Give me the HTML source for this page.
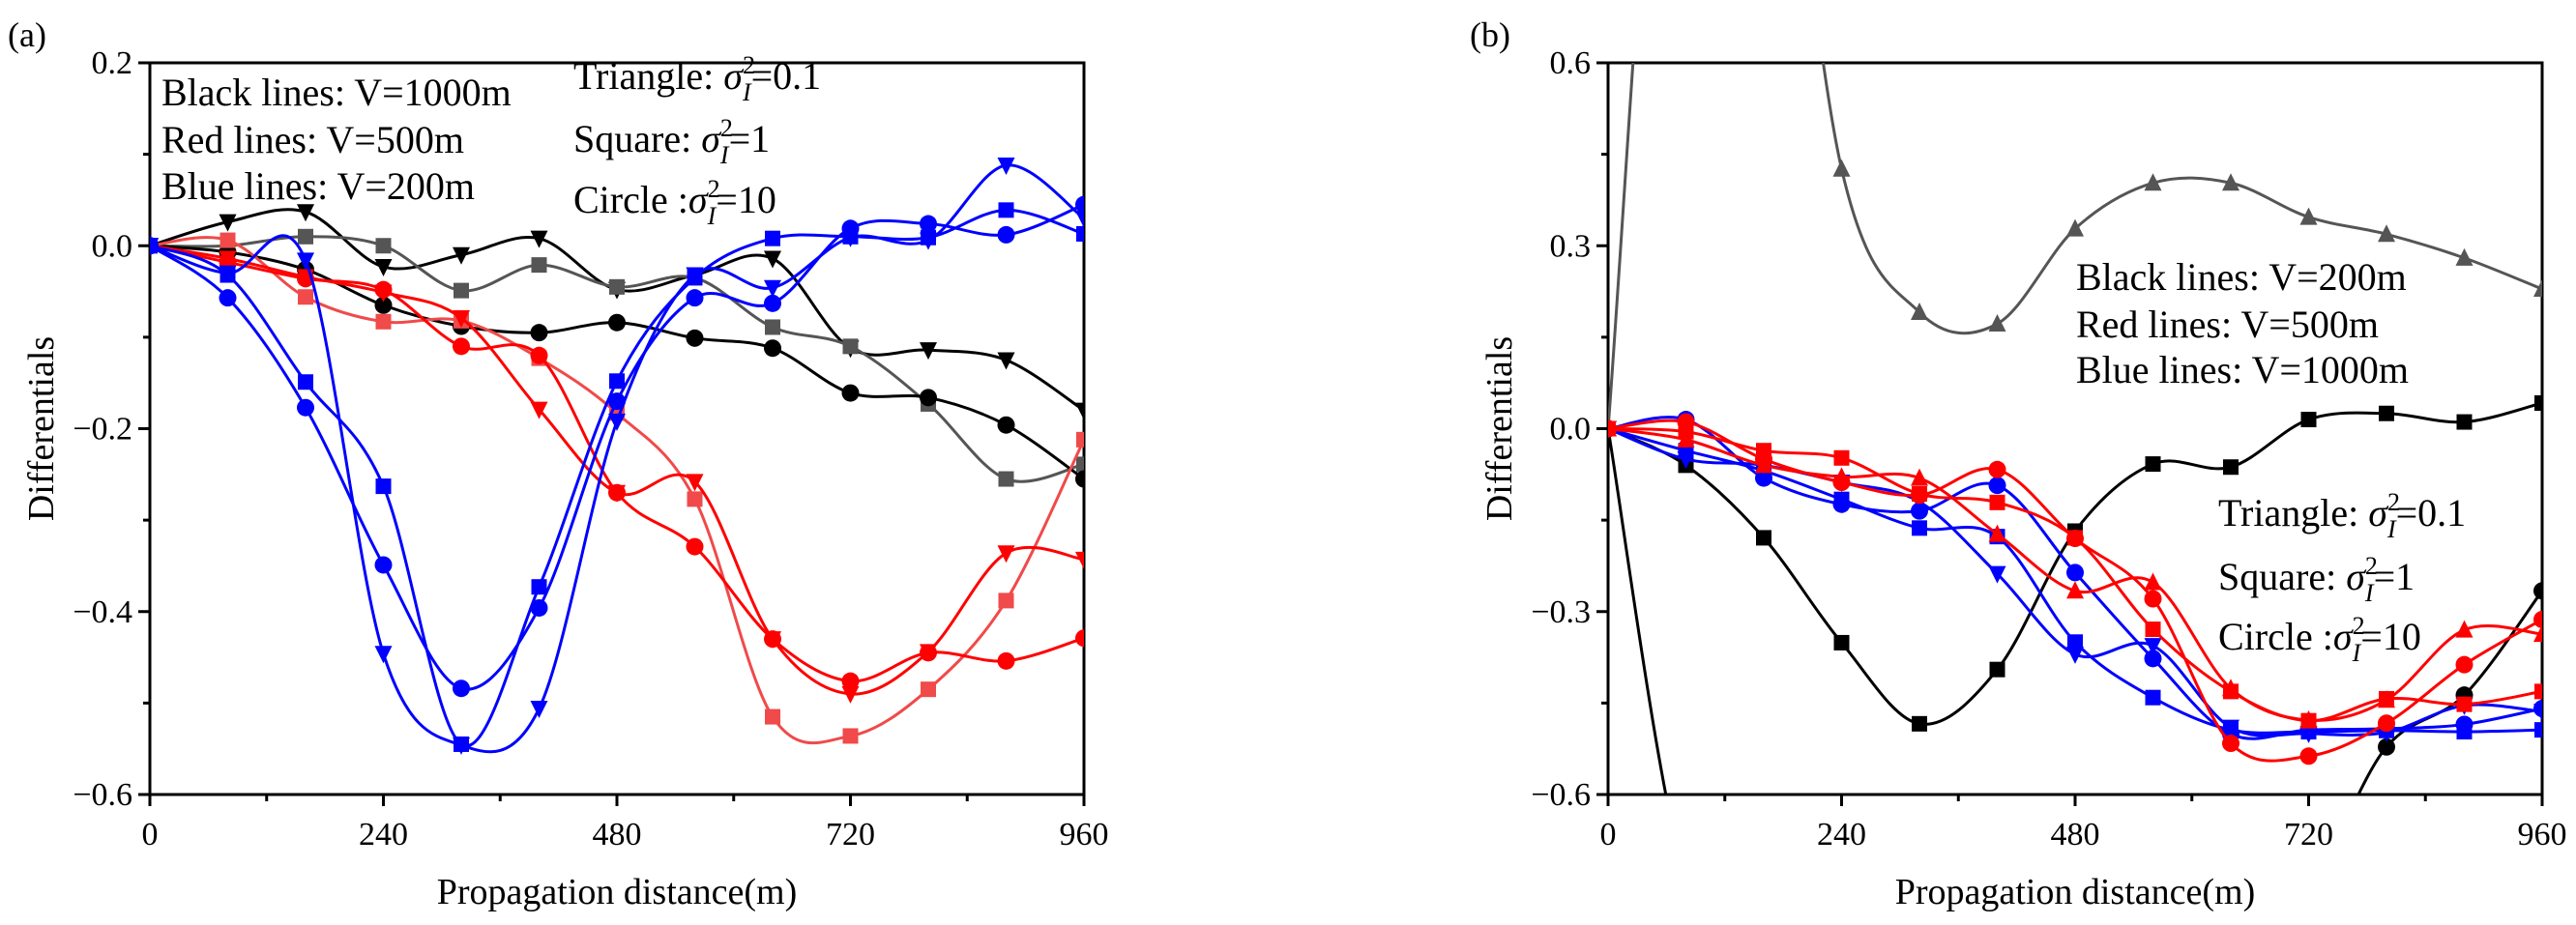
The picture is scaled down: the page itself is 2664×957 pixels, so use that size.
<!DOCTYPE html>
<html><head><meta charset="utf-8"><style>
html,body{margin:0;padding:0;background:#fff;width:2664px;height:957px;overflow:hidden;}
svg{display:block;font-family:"Liberation Serif",serif;overflow:hidden;}
</style></head><body>
<svg id="chart" width="2664" height="957" viewBox="0 0 2664 957" xmlns="http://www.w3.org/2000/svg">
<defs>
<clipPath id="clipA"><rect x="155" y="65" width="966" height="757"/></clipPath>
<clipPath id="clipB"><rect x="1663" y="65" width="966" height="757"/></clipPath>
</defs>
</svg>
<script>
// ---------- data ----------
const xCats = [0,80,160,240,320,400,480,560,640,720,800,880,960];
const xTicks = [0,240,480,720,960];
const yTicksA = [0.2,0.0,-0.2,-0.4,-0.6];
const yTickLabelsA = ["0.2","0.0","\u22120.2","\u22120.4","\u22120.6"];
const yTicksB = [0.6,0.3,0.0,-0.3,-0.6];
const yTickLabelsB = ["0.6","0.3","0.0","\u22120.3","\u22120.6"];

// panel (a)
const aBlackTri = [0,0.026,0.037,-0.023,-0.010,0.008,-0.048,-0.032,-0.014,-0.112,-0.114,-0.125,-0.180];
const aGraySq = [0,0.0,0.010,0.0,-0.049,-0.021,-0.045,-0.035,-0.089,-0.110,-0.173,-0.255,-0.239];
const aBlackCir = [0,-0.007,-0.026,-0.065,-0.088,-0.095,-0.084,-0.101,-0.112,-0.161,-0.166,-0.196,-0.255];
const aBlueTri = [0,-0.030,-0.016,-0.446,-0.546,-0.506,-0.192,-0.032,-0.046,0.009,0.006,0.088,0.030];
const aBlueSq = [0,-0.032,-0.149,-0.263,-0.545,-0.373,-0.148,-0.035,0.008,0.010,0.009,0.039,0.013];
const aBlueCir = [0,-0.057,-0.177,-0.349,-0.484,-0.396,-0.170,-0.057,-0.063,0.019,0.024,0.012,0.045];
const aRedTri = [0,-0.014,-0.034,-0.051,-0.079,-0.179,-0.270,-0.258,-0.430,-0.490,-0.444,-0.336,-0.343];
const aLtRedSq = [0,0.006,-0.056,-0.083,-0.082,-0.123,-0.183,-0.277,-0.515,-0.536,-0.485,-0.388,-0.212];
const aRedCir = [0,-0.018,-0.036,-0.048,-0.110,-0.120,-0.270,-0.329,-0.430,-0.476,-0.445,-0.454,-0.429];

// panel (b)
const bGrayTri = [0,1.6,1.3,0.426,0.191,0.172,0.328,0.403,0.403,0.347,0.319,0.280,0.229];
const bBlackSq = [0,-0.060,-0.179,-0.351,-0.484,-0.395,-0.168,-0.058,-0.063,0.015,0.025,0.011,0.042];
const bBlackCir = [0,-0.74,-0.74,-0.74,-0.74,-0.74,-0.74,-0.74,-0.74,-0.74,-0.522,-0.437,-0.266];
const bBlueTri = [0,-0.050,-0.060,-0.088,-0.120,-0.238,-0.370,-0.356,-0.490,-0.500,-0.498,-0.454,-0.464];
const bBlueSq = [0,-0.036,-0.069,-0.116,-0.163,-0.177,-0.350,-0.441,-0.494,-0.497,-0.495,-0.497,-0.494];
const bBlueCir = [0,0.015,-0.081,-0.124,-0.135,-0.093,-0.236,-0.377,-0.501,-0.494,-0.492,-0.485,-0.459];
const bRedTri = [0,-0.018,-0.060,-0.079,-0.081,-0.173,-0.266,-0.252,-0.426,-0.478,-0.445,-0.330,-0.337];
const bRedSq = [0,-0.005,-0.036,-0.048,-0.107,-0.121,-0.179,-0.329,-0.431,-0.479,-0.443,-0.452,-0.431];
const bRedCir = [0,0.011,-0.050,-0.088,-0.109,-0.067,-0.180,-0.279,-0.516,-0.537,-0.483,-0.387,-0.313];

// ---------- drawing ----------
const NS = "http://www.w3.org/2000/svg";
const svg = document.getElementById('chart');
function mk(tag, attrs, parent){
  const e = document.createElementNS(NS, tag);
  for (const k in attrs) e.setAttribute(k, attrs[k]);
  (parent||svg).appendChild(e);
  return e;
}

function panel(cfg){
  const L=cfg.left, T=65, W=966, H=757;
  const xs = v => L + v/960*W;
  const ys = v => T + (cfg.yMax - v)/(cfg.yMax-cfg.yMin)*H;
  const g = mk('g',{});
  
  
  const fr = mk('rect',{x:L,y:T,width:W,height:H,fill:'none',stroke:'#000','stroke-width':3},g);
  
  
  for (let v=0; v<=960; v+=120){
    const major = v%240===0;
    const t = mk('line',{x1:xs(v),x2:xs(v),y1:T+H,y2:T+H+(major?12:7),stroke:'#000','stroke-width':3},g);
    
    
  }
  xTicks.forEach(v=>{
    const t = mk('text',{x:xs(v),y:T+H+52,'font-size':34,'text-anchor':'middle',fill:'#000'},g);
    t.textContent = String(v);
    
    
  });
  const step = (cfg.yTicks[0]-cfg.yTicks[1])/2;
  for (let v=cfg.yMin; v<=cfg.yMax+1e-9; v+=step){
    const major = Math.abs(Math.round((v-cfg.yMin)/step))%2===0;
    const t = mk('line',{x1:L-(major?12:7),x2:L,y1:ys(v),y2:ys(v),stroke:'#000','stroke-width':3},g);
    
    
  }
  cfg.yTicks.forEach((v,i)=>{
    const t = mk('text',{x:L-18,y:ys(v)+11,'font-size':34,'text-anchor':'end',fill:'#000'},g);
    t.textContent = cfg.yLabels[i];
    
    
  });
  const xt = mk('text',{x:L+W/2,y:935,'font-size':38,'text-anchor':'middle',fill:'#000'},g);
  xt.textContent='Propagation distance(m)';
  
  
  const yt = mk('text',{x:0,y:0,'font-size':38,'text-anchor':'middle',fill:'#000',transform:`translate(${L-100},${T+H/2}) rotate(-90)`},g);
  yt.textContent='Differentials';
  
  
  const pl = mk('text',{x:cfg.labelX,y:48,'font-size':36,fill:'#000'},g);
  pl.textContent=cfg.label;
  
  
  const sg = mk('g',{'clip-path':`url(#${cfg.clip})`},g);
  cfg.series.forEach(s=>{
    const pts = xCats.map((x,i)=>[xs(x), ys(s.data[i])]);
    let d = `M${pts[0][0]},${pts[0][1]}`;
    for (let i=0;i<pts.length-1;i++){
      const p0=pts[Math.max(i-1,0)], p1=pts[i], p2=pts[i+1], p3=pts[Math.min(i+2,pts.length-1)];
      const c1=[p1[0]+(p2[0]-p0[0])/6, p1[1]+(p2[1]-p0[1])/6];
      const c2=[p2[0]-(p3[0]-p1[0])/6, p2[1]-(p3[1]-p1[1])/6];
      d += ` C${c1[0]},${c1[1]} ${c2[0]},${c2[1]} ${p2[0]},${p2[1]}`;
    }
    const ln = mk('path',{d:d,fill:'none',stroke:s.color,'stroke-width':3},sg);
    
    
    pts.forEach(([px,py])=>{
      if (py < T-20 || py > T+H+20) return;
      let m;
      const r=8;
      if (s.marker==='sq') m = mk('rect',{x:px-r,y:py-r,width:2*r,height:2*r,fill:s.color},sg);
      else if (s.marker==='ci') m = mk('circle',{cx:px,cy:py,r:r+1,fill:s.color},sg);
      else if (s.marker==='tu') m = mk('polygon',{points:`${px},${py-r-2} ${px-r-1},${py+r} ${px+r+1},${py+r}`,fill:s.color},sg);
      else m = mk('polygon',{points:`${px},${py+r+2} ${px-r-1},${py-r} ${px+r+1},${py-r}`,fill:s.color},sg);
      
      
    });
  });
  cfg.texts.forEach(t=>{
    const el = mk('text',{x:t.x,y:t.y,'font-size':40,fill:'#000'},g);
    
    
    if (t.sig){
      el.appendChild(document.createTextNode(t.pre));
      const s1 = mk('tspan',{'font-style':'italic'},el); s1.textContent='\u03c3';
      const s2 = mk('tspan',{'font-size':26,dy:-16}, el); s2.textContent='2';
      const s3 = mk('tspan',{'font-size':26,'font-style':'italic',dx:-13,dy:28}, el); s3.textContent='I';
      const s4 = mk('tspan',{dy:-12}, el); s4.textContent=t.post;
    } else el.textContent = t.pre;
  });
}

panel({name:'panel-a',left:155,yMax:0.2,yMin:-0.6,yTicks:yTicksA,yLabels:yTickLabelsA,clip:'clipA',label:'(a)',labelX:8,
  series:[
    {name:'a-black-triangle',data:aBlackTri,color:'#000',marker:'td'},
    {name:'a-gray-square',data:aGraySq,color:'#555',marker:'sq'},
    {name:'a-black-circle',data:aBlackCir,color:'#000',marker:'ci'},
    {name:'a-lightred-square',data:aLtRedSq,color:'#f04a4a',marker:'sq'},
    {name:'a-red-triangle',data:aRedTri,color:'#f00',marker:'td'},
    {name:'a-red-circle',data:aRedCir,color:'#f00',marker:'ci'},
    {name:'a-blue-triangle',data:aBlueTri,color:'#00f',marker:'td'},
    {name:'a-blue-square',data:aBlueSq,color:'#00f',marker:'sq'},
    {name:'a-blue-circle',data:aBlueCir,color:'#00f',marker:'ci'}],
  texts:[
    {x:167,y:109,pre:'Black lines: V=1000m'},
    {x:167,y:158,pre:'Red lines: V=500m'},
    {x:167,y:206,pre:'Blue lines: V=200m'},
    {x:593,y:92,sig:true,pre:'Triangle: ',post:'=0.1'},
    {x:593,y:157,sig:true,pre:'Square: ',post:'=1'},
    {x:593,y:220,sig:true,pre:'Circle :',post:'=10'}]
});
panel({name:'panel-b',left:1663,yMax:0.6,yMin:-0.6,yTicks:yTicksB,yLabels:yTickLabelsB,clip:'clipB',label:'(b)',labelX:1520,
  series:[
    {name:'b-gray-triangle',data:bGrayTri,color:'#555',marker:'tu'},
    {name:'b-black-square',data:bBlackSq,color:'#000',marker:'sq'},
    {name:'b-black-circle',data:bBlackCir,color:'#000',marker:'ci'},
    {name:'b-blue-triangle',data:bBlueTri,color:'#00f',marker:'td'},
    {name:'b-blue-square',data:bBlueSq,color:'#00f',marker:'sq'},
    {name:'b-blue-circle',data:bBlueCir,color:'#00f',marker:'ci'},
    {name:'b-red-triangle',data:bRedTri,color:'#f00',marker:'tu'},
    {name:'b-red-square',data:bRedSq,color:'#f00',marker:'sq'},
    {name:'b-red-circle',data:bRedCir,color:'#f00',marker:'ci'}],
  texts:[
    {x:2147,y:300,pre:'Black lines: V=200m'},
    {x:2147,y:349,pre:'Red lines: V=500m'},
    {x:2147,y:396,pre:'Blue lines: V=1000m'},
    {x:2294,y:544,sig:true,pre:'Triangle: ',post:'=0.1'},
    {x:2294,y:610,sig:true,pre:'Square: ',post:'=1'},
    {x:2294,y:672,sig:true,pre:'Circle :',post:'=10'}]
});
</script>
</body></html>
